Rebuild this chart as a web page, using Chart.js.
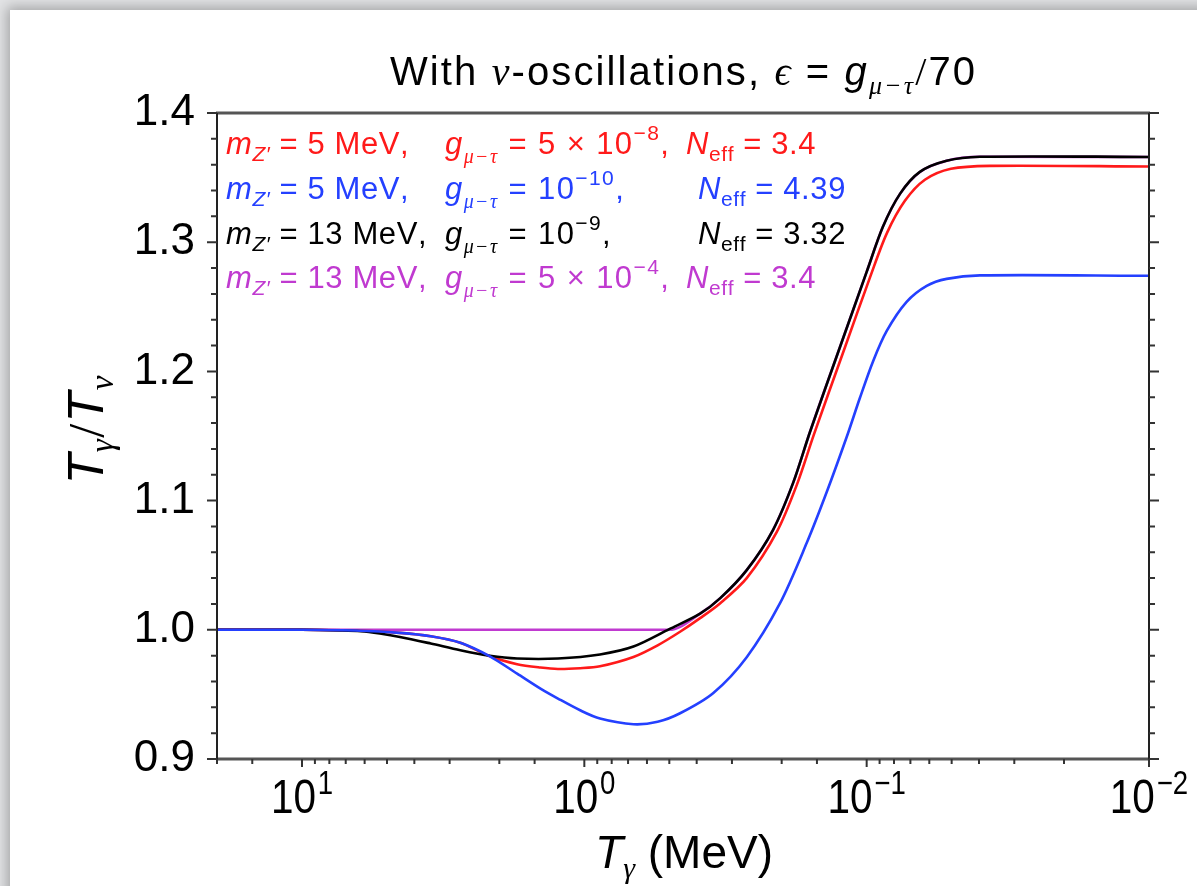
<!DOCTYPE html>
<html>
<head>
<meta charset="utf-8">
<script src="https://cdn.jsdelivr.net/npm/chart.js@4.4.1/dist/chart.umd.min.js"></script>
<style>
  html, body { margin: 0; padding: 0; }
  body { width: 1197px; height: 886px; overflow: hidden; background: #e2e3e5; position: relative; }
  .card { position: absolute; left: 10px; top: 10px; width: 1400px; height: 1100px; background: #fff;
          box-shadow: 0 0 12px 3px rgba(0,0,0,0.28); }
  canvas { position: absolute; left: 0; top: 0; }
</style>
</head>
<body>
<div class="card"></div>
<canvas id="c" width="1197" height="886"></canvas>
<script>
// T_gamma (MeV) and T_gamma/T_nu for each parameter set
const tempBlack  = [20, 10, 7.3, 6.2, 5.3, 4.5, 3.5, 2.75, 2.16, 1.73, 1.24, 0.88, 0.67, 0.5, 0.389, 0.33, 0.266, 0.2147, 0.1823, 0.1588, 0.1243, 0.1, 0.0876, 0.0762, 0.0648, 0.0521, 0.0397, 0.01];
const ratioBlack = [1.0, 1.0, 0.9995, 0.9989, 0.9971, 0.9945, 0.9894, 0.9842, 0.9799, 0.9778, 0.9778, 0.9809, 0.9870, 1.0005, 1.0125, 1.0245, 1.0462, 1.0772, 1.1135, 1.1531, 1.2189, 1.277, 1.3119, 1.3374, 1.3544, 1.363, 1.3661, 1.366];

const tempRed  = [20, 10, 6.2, 4.5, 3.5, 2.75, 2.16, 1.73, 1.43, 1.24, 1.035, 0.88, 0.67, 0.55, 0.458, 0.389, 0.33, 0.266, 0.2083, 0.1769, 0.1536, 0.1203, 0.0966, 0.0847, 0.0732, 0.0622, 0.0503, 0.0366, 0.01];
const ratioRed = [1.0, 1.0, 0.9993, 0.9976, 0.995, 0.990, 0.9795, 0.9734, 0.9708, 0.9697, 0.9703, 0.9718, 0.979, 0.988, 0.9985, 1.009, 1.0206, 1.04, 1.0756, 1.112, 1.1515, 1.2166, 1.2747, 1.3072, 1.332, 1.3483, 1.3568, 1.3591, 1.3586];

const tempBlue  = [20, 10, 6.2, 4.5, 3.5, 2.75, 2.16, 1.73, 1.43, 1.24, 1.035, 0.88, 0.67, 0.55, 0.458, 0.35, 0.266, 0.2027, 0.1631, 0.1385, 0.1177, 0.1057, 0.0948, 0.0849, 0.0722, 0.0613, 0.0521, 0.0397, 0.01];
const ratioBlue = [1.0, 1.0, 0.9993, 0.9976, 0.995, 0.990, 0.9795, 0.9661, 0.9545, 0.9468, 0.9377, 0.9313, 0.9269, 0.9288, 0.9354, 0.9509, 0.9788, 1.0206, 1.0671, 1.1066, 1.1492, 1.1794, 1.2081, 1.2313, 1.2538, 1.2662, 1.2716, 1.2743, 1.274];

const tempMagenta  = [20, 10, 5, 2, 1, 0.7, 0.5, 0.389, 0.33, 0.266, 0.2147, 0.1823, 0.1588, 0.1243, 0.1, 0.0876, 0.0762, 0.0648, 0.0521, 0.0397, 0.01];
const ratioMagenta = [1.0, 1.0, 1.0, 1.0, 1.0, 1.0, 1.0, 1.0125, 1.0245, 1.0462, 1.0772, 1.1135, 1.1531, 1.2189, 1.277, 1.3119, 1.3374, 1.3544, 1.363, 1.3661, 1.366];

// legend rows: red, blue, black, magenta
const legendColors   = ['#ff1a1a', '#2440ff', '#000000', '#c03ad0'];
const legendMass     = ['5', '5', '13', '13'];
const legendCoupling = [['5 × 10', '−8'], ['10', '−10'], ['10', '−9'], ['5 × 10', '−4']];
const legendNeff     = ['3.4', '4.39', '3.32', '3.4'];

const SANS = '"Liberation Sans", Arial, sans-serif';
const SERIF = '"Liberation Serif", "DejaVu Serif", serif';
const sans = s => `${s}px ${SANS}`;
const sansIt = s => `italic ${s}px ${SANS}`;
const serif = s => `${s}px ${SERIF}`;
const serifIt = s => `italic ${s}px ${SERIF}`;

const pts = (xs, ys) => xs.map((x, i) => ({ x, y: ys[i] }));

// text made of runs [text, font, dy], drawn glyph by glyph with extra tracking
function partsWidth(ctx, parts, track) {
  let w = 0;
  for (const p of parts) { ctx.font = p[1]; for (const ch of p[0]) w += ctx.measureText(ch).width + track; }
  return w - track;
}
function drawParts(ctx, parts, x, y, track) {
  for (const p of parts) {
    ctx.font = p[1];
    for (const ch of p[0]) { ctx.fillText(ch, x, y + (p[2] || 0)); x += ctx.measureText(ch).width + track; }
  }
  return x;
}

const isDecade = v => Math.abs(Math.log10(v) - Math.round(Math.log10(v))) < 1e-6;
const isTenth = v => Math.abs(v * 10 - Math.round(v * 10)) < 1e-6;

const decor = {
  id: 'decor',
  afterDraw(chart) {
    const ctx = chart.ctx;
    const { left, right, top, bottom } = chart.chartArea;
    const xs = chart.scales.x, ys = chart.scales.y;
    ctx.save();

    // frame: heavier grey top and bottom, darker sides
    ctx.strokeStyle = '#555';
    ctx.lineWidth = 3;
    ctx.beginPath();
    ctx.moveTo(left - 1, top); ctx.lineTo(right + 1, top);
    ctx.moveTo(left - 1, bottom); ctx.lineTo(right + 1, bottom);
    ctx.stroke();
    ctx.strokeStyle = '#222';
    ctx.lineWidth = 2;
    ctx.beginPath();
    ctx.moveTo(left, top); ctx.lineTo(left, bottom);
    ctx.moveTo(right, top); ctx.lineTo(right, bottom);
    ctx.stroke();

    // y ticks, left and right, pointing out
    ctx.strokeStyle = '#333';
    ys.ticks.forEach(t => {
      const y = ys.getPixelForValue(t.value);
      const len = isTenth(t.value) ? 10 : 6;
      ctx.beginPath();
      ctx.moveTo(left - len, y); ctx.lineTo(left, y);
      ctx.moveTo(right, y); ctx.lineTo(right + len, y);
      ctx.stroke();
    });

    // x ticks and 10^n labels
    ctx.fillStyle = '#000';
    ctx.textBaseline = 'alphabetic';
    ctx.textAlign = 'left';
    xs.ticks.forEach(t => {
      if (t.value < 0.01 - 1e-9 || t.value > 20 + 1e-9) return;
      const x = xs.getPixelForValue(t.value);
      const major = isDecade(t.value);
      ctx.beginPath();
      ctx.moveTo(x, bottom); ctx.lineTo(x, bottom + (major ? 8 : 5));
      ctx.stroke();
      if (!major) return;
      const e = Math.round(Math.log10(t.value));
      const sup = (e < 0 ? '−' : '') + Math.abs(e);
      ctx.save();
      ctx.translate(x, 813);
      ctx.scale(0.92, 1.1);
      ctx.font = sans(44); const w1 = ctx.measureText('10').width;
      ctx.font = sans(30); const w2 = ctx.measureText(sup).width;
      const x0 = -(w1 + 2 + w2) / 2;
      ctx.font = sans(44); ctx.fillText('10', x0, 0);
      ctx.font = sans(30); ctx.fillText(sup, x0 + w1 + 2, -17.3);
      ctx.restore();
    });

    // title
    const title = [
      ['With ', sans(40)], ['ν', serifIt(40)], ['-oscillations, ', sans(40)],
      ['ϵ', serifIt(40)], [' = ', sans(40)], ['g', sansIt(40)], ['μ−τ', serifIt(26), 9],
      ['/', serif(40)], ['70', sans(40)]
    ];
    const nChars = title.reduce((n, p) => n + [...p[0]].length, 0);
    const track = Math.max(0, (585 - partsWidth(ctx, title, 0)) / (nChars - 1));
    drawParts(ctx, title, 390, 85, track);

    // x axis title
    const xt = [['T', sansIt(46)], ['γ', serifIt(30), 10], [' (MeV)', sans(46)]];
    drawParts(ctx, xt, 684 - partsWidth(ctx, xt, 0) / 2, 868, 0);

    // y axis title
    const yt = [['T', sansIt(50)], ['γ', serifIt(33), 10], ['/', serif(50)], ['T', sansIt(50)], ['ν', serifIt(33), 10]];
    ctx.save();
    ctx.translate(103, 430);
    ctx.rotate(-Math.PI / 2);
    drawParts(ctx, yt, -partsWidth(ctx, yt, 1.5) / 2, 0, 1.5);
    ctx.restore();

    // legend block
    const baselines = [154, 199, 244, 288];
    const neffX = [686, 698, 698, 686];
    legendColors.forEach((c, i) => {
      ctx.fillStyle = c;
      const y = baselines[i];
      drawParts(ctx, [['m', sansIt(31)], ['Z′', sansIt(21), 7], [` = ${legendMass[i]} MeV,`, sans(31)]], 226, y, 0.6);
      drawParts(ctx, [['g', sansIt(31)], ['μ−τ', serifIt(20), 9], [` = ${legendCoupling[i][0]}`, sans(31)],
                      [legendCoupling[i][1], sans(21), -14], [',', sans(31)]], 445, y, 1.4);
      drawParts(ctx, [['N', sansIt(31)], ['eff', sans(21), 7], [` = ${legendNeff[i]}`, sans(31)]], neffX[i], y, 0.6);
    });

    ctx.restore();
  }
};

const line = (label, data, color, order, smooth) => ({
  label, data, order,
  borderColor: color, borderWidth: 2.6,
  pointRadius: 0, fill: false,
  ...smooth
});

new Chart(document.getElementById('c'), {
  type: 'line',
  data: {
    datasets: [
      line('blue', pts(tempBlue, ratioBlue), legendColors[1], 0, { tension: 0.3 }),
      line('black', pts(tempBlack, ratioBlack), legendColors[2], 1, { tension: 0.3 }),
      line('red', pts(tempRed, ratioRed), legendColors[0], 2, { tension: 0.3 }),
      line('magenta', pts(tempMagenta, ratioMagenta), legendColors[3], 3, { cubicInterpolationMode: 'monotone' })
    ]
  },
  options: {
    responsive: false,
    animation: false,
    layout: { padding: { left: 0, top: 113, right: 48, bottom: 0 } },
    plugins: { legend: { display: false }, tooltip: { enabled: false } },
    scales: {
      x: {
        type: 'logarithmic', reverse: true, min: 0.01, max: 20,
        grid: { display: false, drawTicks: false }, border: { display: false },
        ticks: { display: false },
        afterFit: s => { s.height = 127; }
      },
      y: {
        min: 0.9, max: 1.4,
        grid: { display: false, drawTicks: false }, border: { display: false },
        ticks: {
          stepSize: 0.02, autoSkip: false, padding: 22, color: '#000',
          font: { family: 'Liberation Sans', size: 44 },
          callback: v => isTenth(v) ? v.toFixed(1) : ''
        },
        afterFit: s => { s.width = 217; }
      }
    }
  },
  plugins: [decor]
});
</script>
</body>
</html>
